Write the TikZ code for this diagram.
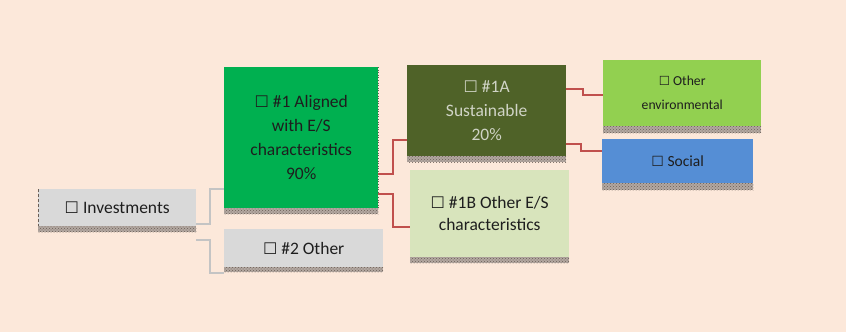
\documentclass[tikz,border=0pt]{standalone}
\usepackage{fontspec}
\setmainfont{Carlito}
\newfontfamily\symfont{DejaVu Sans}
\usetikzlibrary{patterns}
\definecolor{bg}{HTML}{FCE8DA}
\definecolor{grayfill}{HTML}{D9D9D9}
\definecolor{greenfill}{HTML}{00B050}
\definecolor{olivefill}{HTML}{4F6228}
\definecolor{limefill}{HTML}{92D050}
\definecolor{bluefill}{HTML}{558ED5}
\definecolor{palefill}{HTML}{D8E4BC}
\definecolor{redline}{HTML}{C0504D}
\definecolor{grayline}{HTML}{C4C4C4}
\definecolor{bandlight}{HTML}{B3A8A1}
\definecolor{banddark}{HTML}{6A5E56}
\definecolor{darktext}{HTML}{1E1E1E}
\definecolor{lighttext}{HTML}{D0D4C6}
\newcommand{\tickbox}[1][16]{{\symfont\fontsize{#1}{#1}\selectfont\char"2610}}
\tikzset{
  box/.style={anchor=north west, inner sep=0pt, align=center, text=darktext,
    font=\fontsize{17.5}{24}\selectfont},
  band/.style={fill=bandlight, postaction={pattern=crosshatch dots, pattern color=banddark}},
  gline/.style={draw=grayline, line width=1.6pt},
  rline/.style={draw=redline, line width=1.6pt},
}
\begin{document}
\begin{tikzpicture}[x=1pt,y=-1pt]
\fill[bg] (0,0) rectangle (846,332);
\useasboundingbox (0,0) rectangle (846,332);
% nodes
\node[box, fill=grayfill, minimum width=158pt, minimum height=37pt] (inv) at (38,189) {\tickbox{} Investments};
\node[box, fill=greenfill, minimum width=154pt, minimum height=141pt] (a1) at (224,67) {\tickbox{} \#1 Aligned\\with E/S\\characteristics\\90\%};
\node[box, fill=grayfill, minimum width=159pt, minimum height=38pt] (o2) at (224,229) {\tickbox{} \#2 Other};
\node[box, fill=olivefill, text=lighttext, minimum width=159pt, minimum height=91pt] (s1a) at (407,65) {\tickbox{} \#1A\\Sustainable\\20\%};
\node[box, fill=palefill, font=\fontsize{17.5}{22}\selectfont, minimum width=159pt, minimum height=87pt] (o1b) at (410,170) {\tickbox{} \#1B Other E/S\\characteristics};
\node[box, fill=limefill, font=\fontsize{13.7}{24}\selectfont, minimum width=158pt, minimum height=66pt] (env) at (603,60) {\tickbox[12.5]{} Other\\environmental};
\node[box, fill=bluefill, font=\fontsize{15.5}{20}\selectfont, minimum width=151pt, minimum height=44pt] (soc) at (602,139) {\tickbox[14]{} Social};
% shadow bands
\foreach \n/\h in {inv/6, a1/6, o2/5, s1a/6, o1b/6, env/7, soc/7}{
  \fill[band] (\n.south west) rectangle ([yshift=-\h pt]\n.south east);
}
\draw[banddark, dotted, line width=0.6pt] (a1.north east) -- (a1.south east);
\draw[banddark, densely dashed, line width=0.5pt] (inv.north west) -- (inv.south west);
% connectors
\draw[gline] (inv.east |- 0,224) -| (210,189) -- (a1.west |- 0,189);
\draw[gline] (inv.east |- 0,240) -| (210,273) -- (o2.west |- 0,273);
\draw[rline] (a1.east |- 0,174) -| (393,140) -- (s1a.west |- 0,140);
\draw[rline] (a1.east |- 0,194) -| (393,227) -- (o1b.west |- 0,227);
\draw[rline] (s1a.east |- 0,89) -| (583,95) -- (env.west |- 0,95);
\draw[rline] (s1a.east |- 0,144) -| (581,151) -- (soc.west |- 0,151);
\end{tikzpicture}
\end{document}
